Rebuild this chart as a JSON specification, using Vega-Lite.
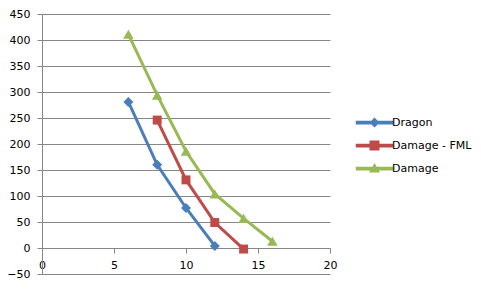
{
  "$schema": "https://vega.github.io/schema/vega-lite/v6.json",
  "autosize": "none",
  "width": 288,
  "height": 260,
  "padding": {"left": 42, "top": 14, "right": 151, "bottom": 16},
  "background": "white",
  "config": {
    "view": {"stroke": null},
    "font": "DejaVu Sans",
    "axis": {"labelFont": "DejaVu Sans", "labelFontSize": 11, "labelColor": "#000000", "domainColor": "#868686", "tickColor": "#868686", "gridColor": "#868686", "gridOpacity": 1, "title": null},
    "legend": {"title": null, "orient": "none", "legendX": 327, "legendY": 103, "symbolOpacity": 1, "labelFont": "DejaVu Sans", "labelFontSize": 11, "labelColor": "#000000", "rowPadding": 11, "labelOffset": 12, "symbolStrokeWidth": 0}
  },
  "data": {"values": [
    {"series": "Dragon", "x": 6, "y": 281},
    {"series": "Dragon", "x": 8, "y": 160},
    {"series": "Dragon", "x": 10, "y": 77},
    {"series": "Dragon", "x": 12, "y": 4},
    {"series": "Damage - FML", "x": 8, "y": 246},
    {"series": "Damage - FML", "x": 10, "y": 131},
    {"series": "Damage - FML", "x": 12, "y": 49},
    {"series": "Damage - FML", "x": 14, "y": -2},
    {"series": "Damage", "x": 6, "y": 411},
    {"series": "Damage", "x": 8, "y": 294},
    {"series": "Damage", "x": 10, "y": 186},
    {"series": "Damage", "x": 12, "y": 104},
    {"series": "Damage", "x": 14, "y": 57},
    {"series": "Damage", "x": 16, "y": 13}
  ]},
  "encoding": {
    "x": {"field": "x", "type": "quantitative", "scale": {"domain": [0, 20], "nice": false, "zero": false},
      "axis": {"orient": "bottom", "offset": -26, "values": [0, 5, 10, 15, 20], "grid": false, "tickSize": 5, "labelPadding": 6, "labelFlush": false}},
    "y": {"field": "y", "type": "quantitative", "scale": {"domain": [-50, 450], "nice": false, "zero": false},
      "axis": {"values": [-50, 0, 50, 100, 150, 200, 250, 300, 350, 400, 450], "grid": true, "tickSize": 5, "labelPadding": 7, "labelFlush": false}},
    "color": {"field": "series", "type": "nominal",
      "scale": {"domain": ["Dragon", "Damage - FML", "Damage"], "range": ["#4A7EBB", "#BE4B48", "#98B954"]}}
  },
  "layer": [
    {"mark": {"type": "line", "strokeWidth": 3}},
    {"transform": [{"filter": "datum.series === 'Dragon'"}], "mark": {"type": "point", "filled": true, "opacity": 1, "shape": "diamond", "size": 100}},
    {"transform": [{"filter": "datum.series === 'Damage - FML'"}], "mark": {"type": "point", "filled": true, "opacity": 1, "shape": "square", "size": 80}},
    {"transform": [{"filter": "datum.series === 'Damage'"}], "mark": {"type": "point", "filled": true, "opacity": 1, "shape": "triangle-up", "size": 110}},
    {"mark": {"type": "point", "filled": true, "opacity": 0, "size": 64},
      "encoding": {
        "shape": {"field": "series", "type": "nominal",
          "scale": {"domain": ["Dragon", "Damage - FML", "Damage"], "range": [
            "M-3.75,-0.375H3.75V0.375H-3.75Z M0,-1L1,0L0,1L-1,0Z",
            "M-3.75,-0.375H3.75V0.375H-3.75Z M-1,-1H1V1H-1Z",
            "M-3.75,-0.375H3.75V0.375H-3.75Z M0,-1.1L1.1,0.8H-1.1Z"]}}
      }}
  ]
}
